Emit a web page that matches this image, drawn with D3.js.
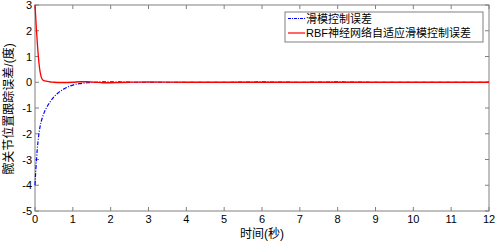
<!DOCTYPE html>
<html><head><meta charset="utf-8">
<script src="https://cdn.jsdelivr.net/npm/d3@7"></script>
<style>body{margin:0;background:#fff}svg{display:block}text{font-family:"Liberation Sans","Noto Sans CJK SC",sans-serif}</style>
</head><body><svg id="c" width="496" height="244"></svg>
<script>
const xTicks = [0,1,2,3,4,5,6,7,8,9,10,11,12];
const yTicks = [-5,-4,-3,-2,-1,0,1,2,3];
const seriesNames = ["滑模控制误差","RBF神经网络自适应滑模控制误差"];
const blueT = [0,0.02,0.04,0.06,0.08,0.1,0.13,0.16,0.2,0.25,0.3,0.4,0.5,0.6,0.7,0.8,0.9,1.0,1.1,1.2,1.4,1.6,1.8,2.0,2.3,2.6,3,4,5,5.8,6,6.2,7,7.8,8,8.2,9,10,11,12];
const blueV = [-4,-3.45,-3.0,-2.6,-2.3,-2.05,-1.75,-1.55,-1.35,-1.15,-1.0,-0.76,-0.57,-0.43,-0.32,-0.23,-0.16,-0.11,-0.07,-0.05,-0.02,0.0,0.02,0.02,0.01,0,0,0,0,0.01,0.02,0.01,0,0.01,0.02,0.01,0,0,0,0];
const redT = [0,0.02,0.04,0.06,0.08,0.1,0.12,0.14,0.17,0.2,0.24,0.3,0.4,0.5,0.7,1.0,1.2,1.4,1.6,1.8,2.0,2.2,2.5,3,4,5,6,7,8,9,10,11,12];
const redV = [3,2.5,2.0,1.55,1.15,0.82,0.55,0.36,0.18,0.1,0.06,0.04,0.01,0,-0.01,0,0.02,0.02,0,-0.02,-0.02,-0.01,0,0.01,0,0,0,0,0,0,0,0,0];

const svg = d3.select("#c");
const L=35,R=489,T=5,B=211;
const x = d3.scaleLinear().domain([0,12]).range([L,R]);
const y = d3.scaleLinear().domain([-5,3]).range([B,T]);
const gray="#808080";

// box
svg.append("rect").attr("x",L).attr("y",T).attr("width",R-L).attr("height",B-T)
  .attr("fill","none").attr("stroke",gray).attr("stroke-width",1);

// ticks
const tl=4;
xTicks.forEach(v=>{
  svg.append("line").attr("x1",x(v)).attr("x2",x(v)).attr("y1",B).attr("y2",B-tl).attr("stroke",gray);
  svg.append("line").attr("x1",x(v)).attr("x2",x(v)).attr("y1",T).attr("y2",T+tl).attr("stroke",gray);
  svg.append("text").attr("x",x(v)).attr("y",B+12).attr("text-anchor","middle").attr("font-size",11).text(v);
});
yTicks.forEach(v=>{
  svg.append("line").attr("x1",L).attr("x2",L+tl).attr("y1",y(v)).attr("y2",y(v)).attr("stroke",gray);
  svg.append("line").attr("x1",R).attr("x2",R-tl).attr("y1",y(v)).attr("y2",y(v)).attr("stroke",gray);
  svg.append("text").attr("x",L-3).attr("y",y(v)+4).attr("text-anchor","end").attr("font-size",11).text(v);
});

// lines
const blue = blueT.map((t,i)=>[t,blueV[i]]);
const red = redT.map((t,i)=>[t,redV[i]]);
const line = d3.line().x(d=>x(d[0])).y(d=>y(d[1])).curve(d3.curveMonotoneX);
svg.append("path").attr("d",line(blue)).attr("fill","none").attr("stroke","#0000ff").attr("stroke-width",1.2).attr("stroke-dasharray","4,1.5,1,1.5");
svg.append("path").attr("d",line(red)).attr("fill","none").attr("stroke","#ff0000").attr("stroke-width",1.3);

// legend
const lg = svg.append("g");
lg.append("rect").attr("x",285).attr("y",12).attr("width",198).attr("height",30).attr("fill","#fff").attr("stroke",gray);
lg.append("line").attr("x1",288).attr("x2",305).attr("y1",18.5).attr("y2",18.5).attr("stroke","#0000ff").attr("stroke-width",1.2).attr("stroke-dasharray","3,1,1,1");
lg.append("line").attr("x1",288).attr("x2",305).attr("y1",33).attr("y2",33).attr("stroke","#ff0000").attr("stroke-width",1.2);
lg.append("text").attr("x",306).attr("y",22.5).attr("font-size",11).text(seriesNames[0]);
lg.append("text").attr("x",306).attr("y",37).attr("font-size",11).text(seriesNames[1]);

// axis labels
svg.append("text").attr("x",262).attr("y",238).attr("text-anchor","middle").attr("font-size",12).text("时间(秒)");
svg.append("text").attr("transform","translate(13,109) rotate(-90)").attr("text-anchor","middle").attr("font-size",12).text("髋关节位置跟踪误差/(度)");
</script></body></html>
